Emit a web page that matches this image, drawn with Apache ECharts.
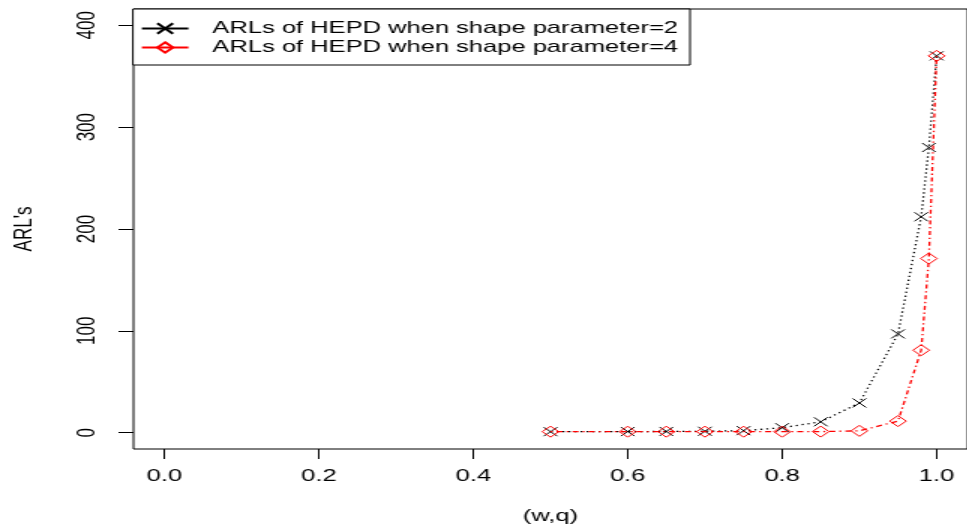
<!DOCTYPE html>
<html>
<head>
<meta charset="utf-8">
<script src="https://cdn.jsdelivr.net/npm/echarts@6/dist/echarts.min.js"></script>
<style>
html,body{margin:0;padding:0;background:#fff;overflow:hidden;}
#chart{width:645.33px;height:530px;transform:scaleX(1.5);transform-origin:0 0;}
</style>
</head>
<body>
<div id="chart"></div>
<script>
// Data
var xValues = [0.5, 0.6, 0.65, 0.7, 0.75, 0.8, 0.85, 0.9, 0.95, 0.98, 0.99, 1.0];
var arlShape2 = [1.0, 1.1, 1.2, 1.4, 2.0, 4.9, 10.7, 29.2, 97, 212, 280, 370];
var arlShape4 = [1.0, 1.0, 1.0, 1.0, 1.0, 1.0, 1.1, 1.8, 11.4, 81, 171, 370];
var seriesNames = ['ARLs of HEPD when shape parameter=2', 'ARLs of HEPD when shape parameter=4'];
var xTicks = [0, 0.2, 0.4, 0.6, 0.8, 1.0];
var yTicks = [0, 100, 200, 300, 400];
var xName = '(w,q)';
var yName = "ARL's";

function pairs(xs, ys) { return xs.map(function (x, i) { return [x, ys[i]]; }); }

var FONT = 'Liberation Sans, Arial, sans-serif';
var chart = echarts.init(document.getElementById('chart'));
chart.setOption({
  animation: false,
  backgroundColor: '#fff',
  textStyle: { fontFamily: FONT },
  grid: { left: 88.6, top: 9, width: 559.2, height: 443, show: true, borderColor: '#000', borderWidth: 1, backgroundColor: 'transparent' },
  legend: {
    orient: 'vertical', left: 88.6, top: 9,
    padding: [11, 8, 9, 5], itemGap: 2, itemWidth: 31, itemHeight: 13,
    backgroundColor: '#fff', borderColor: '#000', borderWidth: 1,
    textStyle: { fontFamily: FONT, fontSize: 17, color: '#000', padding: [0, 0, 0, 11] },
    lineStyle: { type: 'solid' },
    data: seriesNames
  },
  xAxis: {
    type: 'value', min: -0.04, max: 1.04,
    name: xName, nameLocation: 'middle', nameGap: 59,
    nameTextStyle: { fontFamily: FONT, fontSize: 17, color: '#000' },
    axisLine: { show: false, onZero: false },
    splitLine: { show: false },
    axisTick: { show: true, inside: false, length: 10, customValues: xTicks, lineStyle: { color: '#000', width: 1 } },
    axisLabel: { show: true, customValues: xTicks, margin: 19, fontFamily: FONT, fontSize: 17, color: '#000',
      formatter: function (v) { return v.toFixed(1); } }
  },
  yAxis: {
    type: 'value', min: -16, max: 416,
    name: yName, nameLocation: 'middle', nameGap: 64, nameRotate: 90,
    nameTextStyle: { fontFamily: FONT, fontSize: 17, color: '#000' },
    axisLine: { show: false, onZero: false },
    splitLine: { show: false },
    axisTick: { show: true, inside: false, length: 10, customValues: yTicks, lineStyle: { color: '#000', width: 1 } },
    axisLabel: { show: true, customValues: yTicks, rotate: 90, margin: 22, fontFamily: FONT, fontSize: 17, color: '#000' }
  },
  series: [
    {
      name: seriesNames[0], type: 'line', data: pairs(xValues, arlShape2),
      symbol: 'path://M0,0L10,10M10,0L0,10', symbolSize: 9, symbolKeepAspect: true,
      itemStyle: { color: '#000', borderColor: '#000', borderWidth: 1 },
      lineStyle: { color: '#000', width: 1.3, type: [1.3, 2.7] },
      z: 2
    },
    {
      name: seriesNames[1], type: 'line', data: pairs(xValues, arlShape4),
      symbol: 'diamond', symbolSize: [11, 11],
      itemStyle: { color: 'rgba(255,255,255,0)', borderColor: '#ff0000', borderWidth: 1 },
      lineStyle: { color: '#ff0000', width: 1.3, type: [1.3, 2.7, 4, 2.7] },
      z: 3
    }
  ]
});
</script>
</body>
</html>
